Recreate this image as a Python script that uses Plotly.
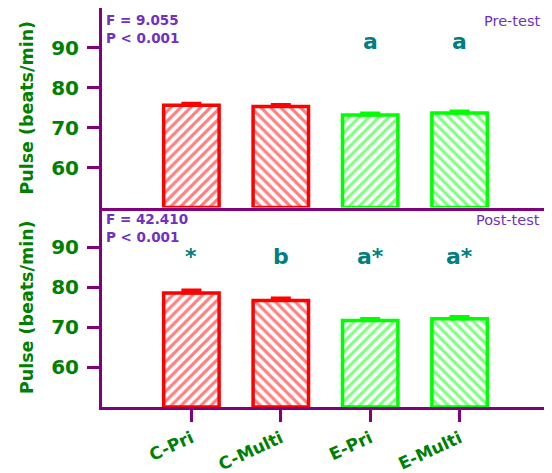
import plotly.graph_objects as go
from plotly.subplots import make_subplots

categories = ["C-Pri", "C-Multi", "E-Pri", "E-Multi"]
pre_means = [75.6, 75.3, 73.2, 73.7]
pre_err = [0.5, 0.5, 0.5, 0.5]
post_means = [78.6, 76.7, 71.7, 72.1]
post_err = [0.7, 0.6, 0.5, 0.6]
pre_labels = ["", "", "a", "a"]
post_labels = ["*", "b", "a*", "a*"]
bar_colors = ["#FF0000", "#FF0000", "#00FF00", "#00FF00"]
hatch = ["/", "\\", "/", "\\"]
ytick_vals = [60, 70, 80, 90]

PURPLE = "#800080"
GREEN = "#008000"
TEAL = "#007F7F"
VIOLET = "#7030C0"
FONT = "DejaVu Sans"

fig = make_subplots(rows=2, cols=1, shared_xaxes=True, vertical_spacing=0)

for row, means, errs in [(1, pre_means, pre_err), (2, post_means, post_err)]:
    for i, c in enumerate(categories):
        fig.add_trace(go.Bar(
            x=[c], y=[means[i] - 50], base=50, width=0.62,
            marker=dict(color="white", line=dict(color=bar_colors[i], width=3.5),
                        pattern=dict(shape=hatch[i], fgcolor=bar_colors[i], bgcolor="white",
                                     size=7, solidity=0.45)),
            error_y=dict(type="data", array=[errs[i]], arrayminus=[0], symmetric=False,
                         color=bar_colors[i], thickness=3, width=10),
            showlegend=False,
        ), row=row, col=1)

common = dict(showline=True, linecolor=PURPLE, linewidth=3, showgrid=False,
              zeroline=False, automargin=False)
for r in (1, 2):
    fig.update_yaxes(range=[50, 100], tickvals=ytick_vals, ticks="outside", ticklen=12,
                     tickwidth=3, tickcolor=PURPLE, mirror=True, ticklabelstandoff=4,
                     tickfont=dict(family=FONT, size=20, color=GREEN, weight="bold"),
                     title=dict(text="Pulse (beats/min)", standoff=14,
                                font=dict(family=FONT, size=17.5, color=GREEN, weight="bold")),
                     row=r, col=1, **common)
fig.update_xaxes(range=[-1, 4], type="category", row=1, col=1, ticks="", showticklabels=False,
                 mirror=True, **common)
fig.update_xaxes(range=[-1, 4], type="category", row=2, col=1, ticks="outside", ticklen=12,
                 tickwidth=3, tickcolor=PURPLE, tickangle=-25, mirror=False,
                 tickfont=dict(family=FONT, size=17, color=GREEN, weight="bold"),
                 **common)

anns = []
for row, labels, ly in [(1, pre_labels, 91.5), (2, post_labels, 87.8)]:
    xr = "x" if row == 1 else "x2"
    yr = "y" if row == 1 else "y2"
    for i, t in enumerate(labels):
        if t:
            anns.append(dict(x=categories[i], y=ly, xref=xr, yref=yr, text=t, showarrow=False,
                             font=dict(family=FONT, size=22, color=TEAL, weight="bold")))
stats = [("F = 9.055", "Pre-test"), ("F = 42.410", "Post-test")]
for k, (ftxt, ptxt) in enumerate(stats):
    xd = "x domain" if k == 0 else "x2 domain"
    yd = "y domain" if k == 0 else "y2 domain"
    anns.append(dict(x=0.004, y=0.99, xref=xd, yref=yd, xanchor="left", yanchor="top",
                     text=ftxt + "<br>P &lt; 0.001", align="left", showarrow=False,
                     font=dict(family=FONT, size=13.5, color=VIOLET, weight="bold")))
    anns.append(dict(x=0.985, y=0.985, xref=xd, yref=yd, xanchor="right", yanchor="top",
                     text=ptxt, showarrow=False,
                     font=dict(family=FONT, size=14.5, color=VIOLET)))

fig.update_layout(width=552, height=473, margin=dict(l=94, r=11, t=0, b=74),
                  plot_bgcolor="white", paper_bgcolor="white", annotations=anns)
fig.write_html("out.html")
